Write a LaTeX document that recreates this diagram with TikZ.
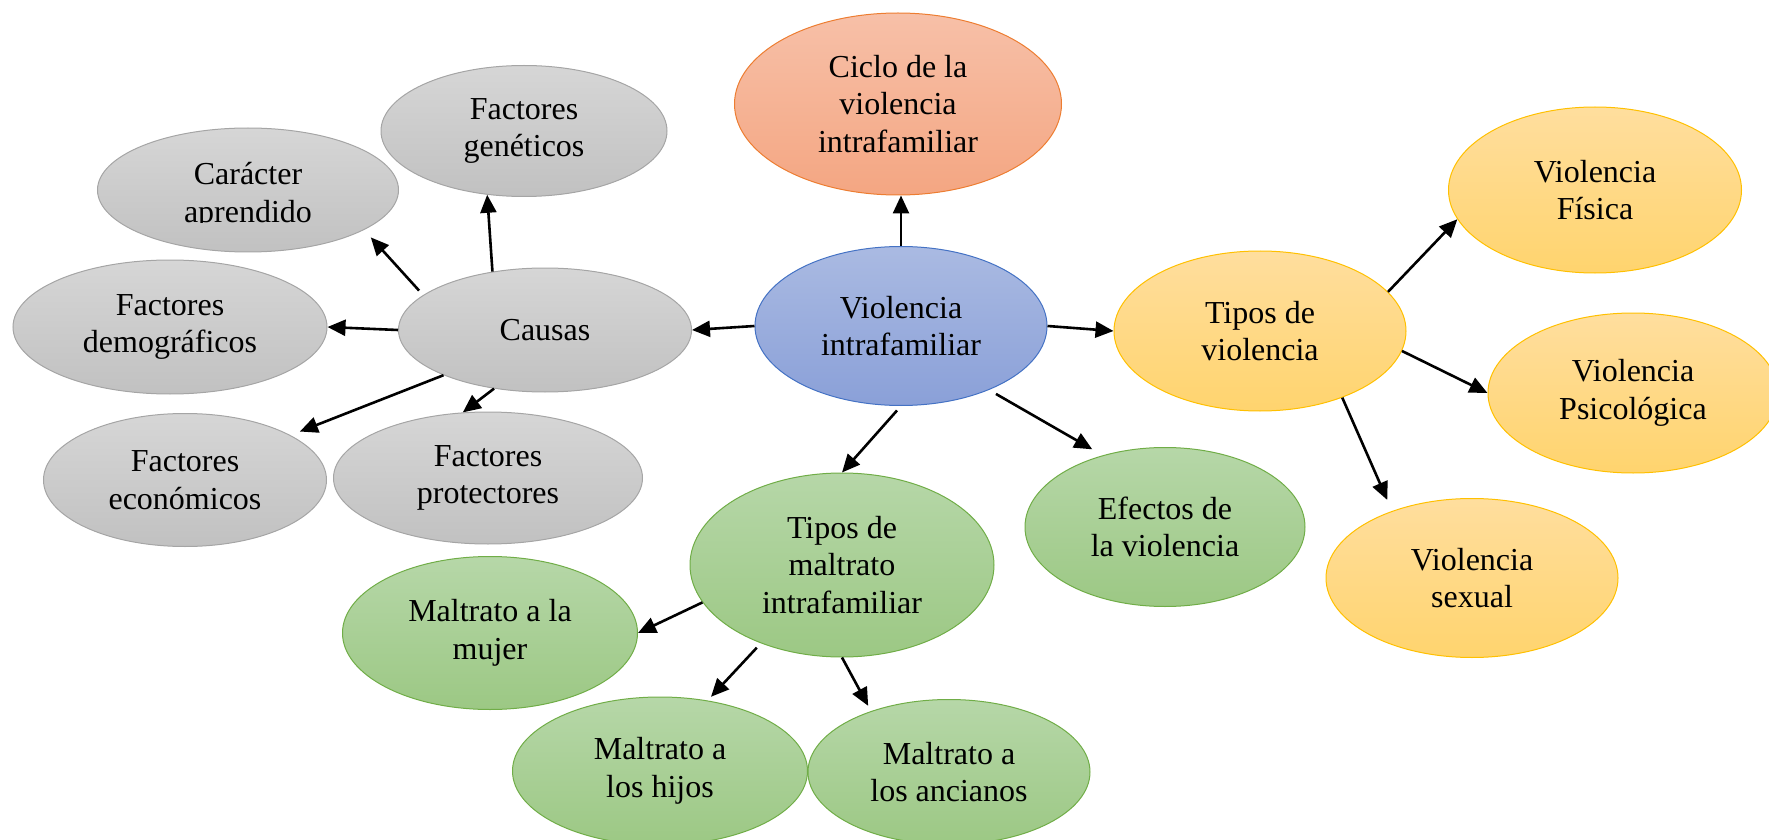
\documentclass[tikz,border=0pt]{standalone}
\usepackage{fontspec}
\setmainfont{Liberation Serif}
\usetikzlibrary{arrows.meta,shapes.geometric}

\definecolor{grisborde}{HTML}{A5A5A5}
\definecolor{gristop}{HTML}{D6D6D6}
\definecolor{grisbase}{HTML}{C1C1C1}
\definecolor{azulborde}{HTML}{4472C4}
\definecolor{azultop}{HTML}{AABAE2}
\definecolor{azulbase}{HTML}{8AA0D8}
\definecolor{naranjaborde}{HTML}{ED7D31}
\definecolor{naranjatop}{HTML}{F7C0A8}
\definecolor{naranjabase}{HTML}{F4A682}
\definecolor{amarilloborde}{HTML}{FFC000}
\definecolor{amarillotop}{HTML}{FFDE9E}
\definecolor{amarillobase}{HTML}{FFD46E}
\definecolor{verdeborde}{HTML}{70AD47}
\definecolor{verdetop}{HTML}{B6D7A8}
\definecolor{verdebase}{HTML}{9CC884}

\begin{document}
\begin{tikzpicture}[
  x=0.5pt, y=-0.5pt,
  every node/.style={font=\fontsize{16}{18.75}\selectfont},
  box/.style={
    ellipse,
    draw,
    line width=0.5pt,
    inner sep=0pt,
    align=center
  },
  dims/.style 2 args={minimum width=#1, minimum height=#2},
  gris/.style={box, draw=grisborde, top color=gristop, bottom color=grisbase},
  azul/.style={box, draw=azulborde, top color=azultop, bottom color=azulbase},
  naranja/.style={box, draw=naranjaborde, top color=naranjatop, bottom color=naranjabase},
  amarillo/.style={box, draw=amarilloborde, top color=amarillotop, bottom color=amarillobase},
  verde/.style={box, draw=verdeborde, top color=verdetop, bottom color=verdebase},
  arrow/.style={-{Triangle[length=9pt,width=8pt]}, line width=1.3pt}
]
\useasboundingbox (0,0) rectangle (1769,840);

\node[azul, dims={146pt}{79.5pt}] (vif) at (901,326) {Violencia\\intrafamiliar};
\node[naranja, dims={163.5pt}{91pt}] (ciclo) at (898,104) {Ciclo de la\\violencia\\intrafamiliar};

\node[gris, dims={146.5pt}{62pt}] (causas) at (545,330) {Causas};
\node[gris, dims={143pt}{65.5pt}] (genet) at (524,131) {Factores\\genéticos};
\node[gris, dims={150.5pt}{62pt},
  path picture={
    \clip (path picture bounding box.north west)
      rectangle ([yshift=14.5pt]path picture bounding box.south east);
    \node[align=center] at ([yshift=-3pt]path picture bounding box.center)
      {Carácter\\aprendido};
  }] (caracter) at (248,190) {};
\node[gris, dims={157pt}{67pt}] (demo) at (170,327) {Factores\\demográficos};
\node[gris, dims={141.5pt}{66.5pt}] (econ) at (185,480) {Factores\\económicos};
\node[gris, dims={154.5pt}{66pt}] (prot) at (488,478) {Factores\\protectores};

\node[amarillo, dims={146pt}{80pt}] (tipos) at (1260,331) {Tipos de\\violencia};
\node[amarillo, dims={146.5pt}{83pt}] (fisica) at (1595,190) {Violencia\\Física};
\node[amarillo, dims={145pt}{80pt}] (psico) at (1633,393) {Violencia\\Psicológica};
\node[amarillo, dims={146pt}{79.5pt}] (sexual) at (1472,578) {Violencia\\sexual};

\node[verde, dims={140pt}{79.5pt}] (efectos) at (1165,527) {Efectos de\\la violencia};
\node[verde, dims={152pt}{92pt}] (maltrato) at (842,565) {Tipos de\\maltrato\\intrafamiliar};
\node[verde, dims={147.5pt}{76.5pt}] (mujer) at (490,633) {Maltrato a la\\mujer};
\node[verde, dims={147.5pt}{74pt}] (hijos) at (660,771) {Maltrato a\\los hijos};
\node[verde, dims={141pt}{72.5pt}] (ancianos) at (949,772) {Maltrato a\\los ancianos};

\draw[arrow] (vif.north) -- (vif.north |- ciclo.south);
\draw[arrow] (vif.west) -- (causas.east);
\draw[arrow] (vif.east) -- (tipos.west);
\draw[arrow, shorten <=4pt, shorten >=6pt] (vif.324) -- (efectos.131);
\draw[arrow, shorten <=3pt] (vif.south) -- (maltrato.north);

\draw[arrow, shorten <=3pt, shorten >=5pt] (causas.164) -- (caracter.341);
\draw[arrow] (causas.132) -- (genet.240);
\draw[arrow] (causas.west) -- (demo.east);
\draw[arrow, shorten >=5pt] (causas.204) -- (econ.23);
\draw[arrow] (causas.229) -- (prot.111);

\draw[arrow] (tipos.17) -- (fisica.192);
\draw[arrow] (tipos.352) -- (psico.west);
\draw[arrow, shorten >=6pt] (tipos.321) -- (sexual.140);

\draw[arrow] (maltrato.195) -- (mujer.east);
\draw[arrow, shorten <=3pt, shorten >=2.5pt] (maltrato.224) -- (hijos.56);
\draw[arrow, shorten >=3pt] (maltrato.south) -- (ancianos.142);
\end{tikzpicture}
\end{document}
